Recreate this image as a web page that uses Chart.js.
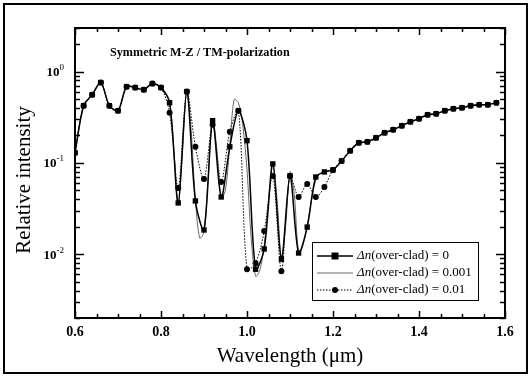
<!doctype html>
<html lang="en">
  <head>
    <meta charset="utf-8">
    <title>Symmetric M-Z / TM-polarization</title>
    <style>
      * {
        margin: 0;
        padding: 0;
      }
      body {
        background: white;
      }
      #myChart {
        display: block;
      }
    </style>
  </head>
  <body>
    <canvas id="myChart" width="532" height="378"></canvas>
    <script type="text/javascript" src="https://cdn.jsdelivr.net/npm/chart.js/dist/chart.umd.min.js"></script>
    <script>
    // wavelength grid of the marker series (um)
    const wavelength = [0.60, 0.62, 0.64, 0.66, 0.68, 0.70, 0.72, 0.74, 0.76, 0.78,
      0.80, 0.82, 0.84, 0.86, 0.88, 0.90, 0.92, 0.94, 0.96, 0.98,
      1.00, 1.02, 1.04, 1.06, 1.08, 1.10, 1.12, 1.14, 1.16, 1.18,
      1.20, 1.22, 1.24, 1.26, 1.28, 1.30, 1.32, 1.34, 1.36, 1.38,
      1.40, 1.42, 1.44, 1.46, 1.48, 1.50, 1.52, 1.54, 1.56, 1.58];

    // dn(over-clad) = 0  (squares)
    const intensity0 = [0.129, 0.423, 0.559, 0.757, 0.423, 0.373, 0.684, 0.667, 0.634, 0.738,
      0.667, 0.456, 0.0364, 0.603, 0.0383, 0.0184, 0.290, 0.0423, 0.150, 0.373,
      0.175, 0.00684, 0.0114, 0.0975, 0.0088, 0.072, 0.0103, 0.0198, 0.070, 0.0796,
      0.0838, 0.105, 0.136, 0.166, 0.170, 0.188, 0.214, 0.231, 0.255, 0.282,
      0.305, 0.337, 0.345, 0.373, 0.392, 0.402, 0.423, 0.434, 0.434, 0.456];

    // dn(over-clad) = 0.01  (circles)
    const intensity2 = [0.129, 0.423, 0.559, 0.757, 0.423, 0.373, 0.684, 0.667, 0.634, 0.738,
      0.667, 0.354, 0.053, 0.603, 0.150, 0.0667, 0.262, 0.0618, 0.219, 0.373,
      0.00684, 0.00796, 0.0179, 0.072, 0.0065, 0.072, 0.0423, 0.0588, 0.0423, 0.0545,
      0.0838, 0.105, 0.136, 0.166, 0.170, 0.188, 0.214, 0.231, 0.255, 0.282,
      0.305, 0.337, 0.345, 0.373, 0.392, 0.402, 0.423, 0.434, 0.434, 0.456];

    // dn(over-clad) = 0.001  (thin line, finer steps in the fringe region)
    const wavelength1 = [0.60, 0.62, 0.64, 0.66, 0.68, 0.70, 0.72, 0.74, 0.76, 0.78, 0.80,
      0.82, 0.83, 0.84, 0.85, 0.86, 0.87, 0.88, 0.89, 0.90, 0.91,
      0.92, 0.93, 0.94, 0.95, 0.96, 0.97, 0.98, 0.99, 1.00, 1.01,
      1.02, 1.03, 1.04, 1.05, 1.06, 1.07, 1.08, 1.09, 1.10, 1.11,
      1.12, 1.13, 1.14, 1.15, 1.16, 1.17, 1.18, 1.19, 1.20,
      1.22, 1.24, 1.26, 1.28, 1.30, 1.32, 1.34, 1.36, 1.38,
      1.40, 1.42, 1.44, 1.46, 1.48, 1.50, 1.52, 1.54, 1.56, 1.58];
    const intensity1 = [0.129, 0.423, 0.559, 0.757, 0.423, 0.373, 0.684, 0.667, 0.634, 0.738, 0.667,
      0.456, 0.139, 0.0345, 0.139, 0.634, 0.231, 0.0392, 0.0150, 0.0175, 0.0738,
      0.305, 0.139, 0.0412, 0.0505, 0.158, 0.492, 0.456, 0.262, 0.0838, 0.0143,
      0.00573, 0.00667, 0.0126, 0.0392, 0.100, 0.0392, 0.0090, 0.0208, 0.0796, 0.0445,
      0.0105, 0.0126, 0.0208, 0.0392, 0.065, 0.0757, 0.0796, 0.0817, 0.0838,
      0.105, 0.136, 0.166, 0.170, 0.188, 0.214, 0.231, 0.255, 0.282,
      0.305, 0.337, 0.345, 0.373, 0.392, 0.402, 0.423, 0.434, 0.434, 0.456];

    const xTicks = [0.6, 0.8, 1.0, 1.2, 1.4, 1.6];
    const xTickLabels = ['0.6', '0.8', '1.0', '1.2', '1.4', '1.6'];
    const yTicks = [1, 0.1, 0.01];
    const yTickExponents = ['0', '-1', '-2'];
    const legendLabels = ['0', '0.001', '0.01'];

    const serif = '"Liberation Serif", "Times New Roman", serif';

    function pts(xs, ys) {
      return xs.map((x, i) => ({x: x, y: ys[i]}));
    }

    // frame, inward ticks, labels and legend
    const framePlugin = {
      id: 'frame',
      afterDraw(chart) {
        const ctx = chart.ctx;
        const a = chart.chartArea;
        const xs = chart.scales.x;
        const ys = chart.scales.y;
        ctx.save();
        ctx.strokeStyle = '#000';
        ctx.fillStyle = '#000';

        // outer border
        ctx.lineWidth = 2;
        ctx.strokeRect(4, 4, 523, 369);

        // plot frame
        ctx.strokeRect(a.left, a.top, a.right - a.left, a.bottom - a.top);

        // x ticks
        ctx.lineWidth = 1.5;
        for (let v = 0.6; v <= 1.6001; v += 0.05) {
          const px = Math.round(xs.getPixelForValue(v)) + 0.5;
          const major = xTicks.some(t => Math.abs(t - v) < 1e-6);
          const len = major ? 7 : 4;
          ctx.beginPath();
          ctx.moveTo(px, a.bottom); ctx.lineTo(px, a.bottom - len);
          ctx.moveTo(px, a.top); ctx.lineTo(px, a.top + len);
          ctx.stroke();
        }
        // y ticks
        for (let e = -3; e <= 0; e++) {
          for (let m = 1; m <= 9; m++) {
            const v = m * Math.pow(10, e);
            if (v < ys.min || v > ys.max) continue;
            const py = Math.round(ys.getPixelForValue(v)) + 0.5;
            const len = m === 1 ? 9 : 5;
            ctx.beginPath();
            ctx.moveTo(a.left, py); ctx.lineTo(a.left + len, py);
            ctx.moveTo(a.right, py); ctx.lineTo(a.right - len, py);
            ctx.stroke();
          }
        }

        // x tick labels
        ctx.font = 'bold 14px ' + serif;
        ctx.textAlign = 'center';
        ctx.textBaseline = 'middle';
        xTicks.forEach((t, i) => {
          ctx.fillText(xTickLabels[i], xs.getPixelForValue(t), 332);
        });

        // y tick labels 10^n
        yTicks.forEach((t, i) => {
          const py = ys.getPixelForValue(t);
          ctx.font = '9px ' + serif;
          const ew = ctx.measureText(yTickExponents[i]).width;
          ctx.textAlign = 'right';
          ctx.textBaseline = 'middle';
          ctx.fillText(yTickExponents[i], 64, py - 4);
          ctx.font = 'bold 13px ' + serif;
          ctx.fillText('10', 64 - ew, py + 1);
        });

        // axis titles
        ctx.font = '21px ' + serif;
        ctx.textAlign = 'center';
        ctx.textBaseline = 'middle';
        ctx.fillText('Wavelength (\u03bcm)', (a.left + a.right) / 2, 356);
        ctx.save();
        ctx.translate(24, 180);
        ctx.rotate(-Math.PI / 2);
        ctx.fillText('Relative intensity', 0, 0);
        ctx.restore();

        // inner title
        ctx.font = 'bold 12.2px ' + serif;
        ctx.textAlign = 'left';
        ctx.fillText('Symmetric M-Z / TM-polarization', 110, 53);

        // legend
        ctx.lineWidth = 1;
        ctx.strokeRect(312.5, 242.5, 166, 58);
        const rows = [256, 273, 290];
        chart.data.datasets.forEach((ds, i) => {
          const y = rows[i];
          ctx.save();
          ctx.strokeStyle = ds.borderColor;
          ctx.lineWidth = ds.borderWidth;
          ctx.setLineDash(ds.borderDash || []);
          ctx.beginPath();
          ctx.moveTo(317, y); ctx.lineTo(353, y);
          ctx.stroke();
          ctx.restore();
          if (ds.pointRadius > 0) {
            ctx.beginPath();
            if (ds.pointStyle === 'rect') {
              ctx.fillRect(335 - 3.5, y - 3.5, 7, 7);
            } else {
              ctx.arc(335, y, 3, 0, Math.PI * 2);
              ctx.fill();
            }
          }
          ctx.textBaseline = 'middle';
          ctx.textAlign = 'left';
          ctx.font = 'italic 13px ' + serif;
          ctx.fillText('\u0394n', 357, y);
          const w = ctx.measureText('\u0394n').width;
          ctx.font = '13px ' + serif;
          ctx.fillText('(over-clad) = ' + legendLabels[i], 357 + w, y);
        });

        ctx.restore();
      }
    };

    const data = {
      datasets: [{
        label: 'dn = 0',
        data: pts(wavelength, intensity0),
        borderColor: '#000',
        backgroundColor: '#000',
        borderWidth: 1.5,
        pointStyle: 'rect',
        pointRadius: 3.8,
        pointBorderWidth: 0,
        tension: 0.3
      }, {
        label: 'dn = 0.001',
        data: pts(wavelength1, intensity1),
        borderColor: '#444',
        borderWidth: 0.8,
        pointRadius: 0,
        tension: 0.3
      }, {
        label: 'dn = 0.01',
        data: pts(wavelength, intensity2),
        borderColor: '#000',
        backgroundColor: '#000',
        borderWidth: 1,
        borderDash: [1.5, 1.5],
        pointStyle: 'circle',
        pointRadius: 3,
        pointBorderWidth: 0,
        tension: 0.3
      }]
    };

    const config = {
      type: 'line',
      data,
      options: {
        responsive: false,
        animation: false,
        layout: {
          padding: {left: 75, top: 28, right: 27, bottom: 60}
        },
        scales: {
          x: {type: 'linear', min: 0.6, max: 1.6, display: false},
          y: {type: 'logarithmic', min: 0.002, max: 3, display: false}
        },
        plugins: {
          legend: {display: false},
          tooltip: {enabled: false}
        }
      },
      plugins: [framePlugin]
    };

    const myChart = new Chart(document.getElementById('myChart'), config);
    </script>
  </body>
</html>
